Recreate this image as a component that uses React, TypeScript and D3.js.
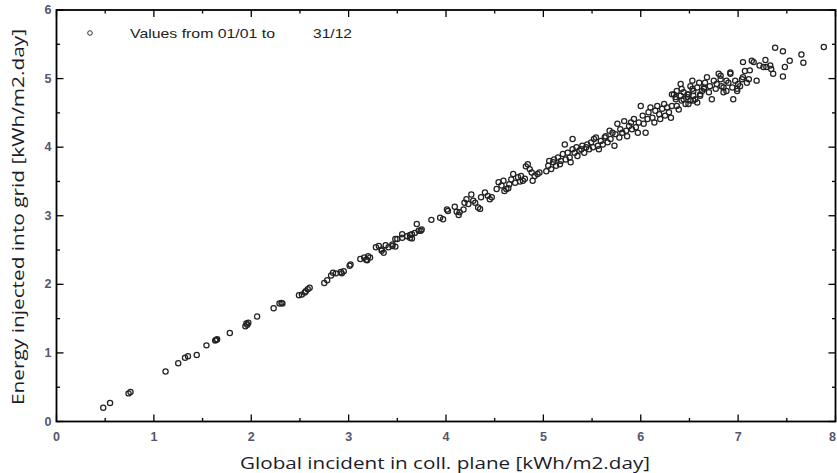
import React from "react";
import * as d3 from "d3";

// daily values (global incident vs energy into grid)
const globalIncident = [
  0.48, 0.55, 0.74, 0.76, 1.12, 1.25, 1.32, 1.35, 1.44, 1.54, 1.63, 1.65, 1.64, 1.78,
  1.94, 1.95, 1.97, 1.96, 2.06, 2.23, 2.29, 2.31, 2.32, 2.49, 2.52, 2.55, 2.56, 2.58,
  2.6, 2.75, 2.78, 2.82, 2.84, 2.87, 2.92, 2.93, 2.95, 3.01, 3.02, 3.12, 3.16, 3.18,
  3.19, 3.2, 3.22, 3.28, 3.31, 3.34, 3.34, 3.36, 3.38, 3.41, 3.45, 3.45, 3.48, 3.48,
  3.5, 3.55, 3.55, 3.6, 3.63, 3.63, 3.65, 3.65, 3.68, 3.7, 3.72, 3.74, 3.75, 3.85,
  3.94, 3.97, 4.01, 4.02, 4.09, 4.11, 4.13, 4.14, 4.18, 4.19, 4.21, 4.23, 4.26, 4.28,
  4.3, 4.33, 4.35, 4.36, 4.4, 4.43, 4.45, 4.47, 4.52, 4.54, 4.57, 4.59, 4.6, 4.62,
  4.64, 4.65, 4.67, 4.69, 4.71, 4.74, 4.76, 4.77, 4.79, 4.81, 4.82, 4.84, 4.86, 4.88,
  4.89, 4.91, 4.94, 4.96, 5.03, 5.05, 5.06, 5.08, 5.1, 5.11, 5.13, 5.15, 5.17, 5.18,
  5.2, 5.22, 5.23, 5.25, 5.27, 5.28, 5.3, 5.3, 5.32, 5.34, 5.35, 5.37, 5.39, 5.4,
  5.42, 5.44, 5.45, 5.47, 5.49, 5.51, 5.52, 5.54, 5.56, 5.57, 5.59, 5.61, 5.63, 5.64,
  5.66, 5.68, 5.69, 5.71, 5.73, 5.74, 5.76, 5.78, 5.79, 5.81, 5.83, 5.85, 5.86, 5.88,
  5.9, 5.91, 5.93, 5.95, 5.97, 5.98, 6.0, 6.02, 6.03, 6.05, 6.07, 6.08, 6.1, 6.12,
  6.14, 6.15, 6.17, 6.19, 6.2, 6.22, 6.24, 6.25, 6.27, 6.29, 6.31, 6.32, 6.34, 6.36,
  6.32, 6.36, 6.37, 6.37, 6.39, 6.41, 6.41, 6.42, 6.42, 6.44, 6.44, 6.46, 6.48, 6.48,
  6.49, 6.49, 6.51, 6.51, 6.53, 6.53, 6.54, 6.54, 6.54, 6.56, 6.58, 6.58, 6.6, 6.61,
  6.61, 6.63, 6.65, 6.65, 6.66, 6.68, 6.7, 6.71, 6.73, 6.75, 6.77, 6.78, 6.8, 6.82,
  6.82, 6.83, 6.85, 6.85, 6.88, 6.88, 6.9, 6.92, 6.92, 6.94, 6.95, 6.97, 6.99, 6.99,
  7.0, 7.02, 7.04, 7.05, 7.05, 7.07, 7.09, 7.11, 7.12, 7.14, 7.16, 7.19, 7.22, 7.26,
  7.28, 7.29, 7.33, 7.34, 7.36, 7.38, 7.46, 7.46, 7.48, 7.53, 7.65, 7.67, 7.88,
];
const energyInjected = [
  0.2, 0.27, 0.41, 0.43, 0.73, 0.85, 0.93, 0.95, 0.97, 1.11, 1.18, 1.2, 1.19, 1.29,
  1.39, 1.43, 1.44, 1.41, 1.53, 1.65, 1.72, 1.73, 1.72, 1.84, 1.85, 1.88, 1.9, 1.93,
  1.95, 2.02, 2.06, 2.13, 2.17, 2.16, 2.18, 2.16, 2.19, 2.27, 2.29, 2.37, 2.39, 2.36,
  2.35, 2.41, 2.39, 2.54, 2.56, 2.49, 2.51, 2.46, 2.57, 2.54, 2.56, 2.58, 2.66, 2.55,
  2.66, 2.73, 2.68, 2.7, 2.72, 2.68, 2.67, 2.73, 2.75, 2.88, 2.78, 2.78, 2.8, 2.94,
  2.97, 2.95, 3.09, 3.07, 3.13, 3.06, 3.01, 3.05, 3.09, 3.19, 3.24, 3.17, 3.31, 3.22,
  3.19, 3.12, 3.1, 3.27, 3.34, 3.29, 3.24, 3.27, 3.39, 3.49, 3.44, 3.51, 3.36, 3.39,
  3.4, 3.46, 3.53, 3.61, 3.48, 3.56, 3.5, 3.58, 3.51, 3.54, 3.72, 3.75, 3.68, 3.63,
  3.51, 3.58, 3.61, 3.63, 3.65, 3.73, 3.8, 3.68, 3.78, 3.82, 3.73, 3.85, 3.75, 3.8,
  3.9, 4.04, 3.82, 3.92, 3.85, 3.78, 3.97, 4.12, 3.92, 4.0, 3.87, 3.95, 3.97, 4.02,
  3.92, 4.0, 4.04, 3.97, 4.07, 4.0, 4.12, 4.14, 4.02, 3.97, 4.09, 4.04, 4.14, 4.16,
  4.07, 4.24, 4.12, 4.21, 4.02, 4.19, 4.34, 4.14, 4.26, 4.21, 4.38, 4.24, 4.16, 4.31,
  4.36, 4.26, 4.41, 4.29, 4.21, 4.36, 4.6, 4.46, 4.34, 4.21, 4.41, 4.51, 4.58, 4.43,
  4.36, 4.53, 4.6, 4.48, 4.41, 4.56, 4.63, 4.46, 4.58, 4.51, 4.43, 4.6, 4.77, 4.7,
  4.77, 4.73, 4.82, 4.6, 4.55, 4.75, 4.92, 4.68, 4.85, 4.8, 4.7, 4.63, 4.73, 4.77,
  4.77, 4.63, 4.68, 4.89, 4.85, 4.97, 4.75, 4.82, 4.68, 4.7, 4.65, 4.87, 4.94, 4.75,
  4.77, 4.82, 4.87, 4.85, 4.94, 5.02, 4.8, 4.89, 4.7, 4.97, 4.85, 4.92, 5.07, 4.99,
  5.04, 4.89, 4.8, 4.87, 4.82, 4.97, 4.94, 5.07, 5.09, 4.87, 4.7, 4.97, 4.85, 4.82,
  4.92, 4.89, 4.99, 5.24, 5.02, 5.11, 4.94, 4.99, 5.12, 5.26, 5.24, 4.97, 5.19, 5.17,
  5.27, 5.17, 5.19, 5.14, 5.07, 5.45, 5.4, 5.03, 5.17, 5.26, 5.35, 5.23, 5.46,
];

const xTicks = [0, 1, 2, 3, 4, 5, 6, 7, 8];
const yTicks = [0, 1, 2, 3, 4, 5, 6];
const xTitle = "Global incident in coll. plane [kWh/m2.day]";
const yTitle = "Energy injected  into grid [kWh/m2.day]";
const legendFrom = "Values from 01/01 to";
const legendTo = "31/12";

const W = 837;
const H = 473;

export default function App() {
  const x = d3.scaleLinear().domain([0, 8]).range([56.5, 835.5]);
  const y = d3.scaleLinear().domain([0, 6]).range([421.5, 10]);

  const xMinor = d3.range(0.5, 8, 1);
  const yMinor = d3.range(0.5, 6, 1);
  const points = globalIncident.map((g, i) => [g, energyInjected[i]]);

  const tickFont = {
    fontFamily: "'Liberation Sans', Arial, sans-serif",
    fontSize: 12.5,
    fontWeight: 700,
    fill: "#55556a",
  };
  const titleFont = {
    fontFamily: "'Open Sans', 'Noto Sans', sans-serif",
    fontSize: 17,
    fill: "#1c1c28",
  };

  const [x0, x1] = x.range();
  const [y0, y1] = y.range();

  return (
    <svg
      width={W}
      height={H}
      style={{ position: "absolute", left: 0, top: 0, background: "#fff" }}
    >
      {/* points */}
      <g fill="none" stroke="#222" strokeWidth={1.25}>
        {points.map((p, i) => (
          <circle key={i} cx={x(p[0])} cy={y(p[1])} r={2.6} />
        ))}
      </g>

      {/* frame */}
      <rect
        x={x0}
        y={y1}
        width={x1 - x0}
        height={y0 - y1}
        fill="none"
        stroke="#000"
        strokeWidth={1.8}
      />

      {/* ticks, inward on all four sides */}
      <g stroke="#000" strokeWidth={1.3}>
        {xTicks.map((t) => (
          <g key={"xt" + t}>
            <line x1={x(t)} x2={x(t)} y1={y0} y2={y0 - 7} />
            <line x1={x(t)} x2={x(t)} y1={y1} y2={y1 + 7} />
          </g>
        ))}
        {xMinor.map((t) => (
          <g key={"xm" + t}>
            <line x1={x(t)} x2={x(t)} y1={y0} y2={y0 - 3.5} />
            <line x1={x(t)} x2={x(t)} y1={y1} y2={y1 + 3.5} />
          </g>
        ))}
        {yTicks.map((t) => (
          <g key={"yt" + t}>
            <line x1={x0} x2={x0 + 7} y1={y(t)} y2={y(t)} />
            <line x1={x1} x2={x1 - 7} y1={y(t)} y2={y(t)} />
          </g>
        ))}
        {yMinor.map((t) => (
          <g key={"ym" + t}>
            <line x1={x0} x2={x0 + 3.5} y1={y(t)} y2={y(t)} />
            <line x1={x1} x2={x1 - 3.5} y1={y(t)} y2={y(t)} />
          </g>
        ))}
      </g>

      {/* tick labels */}
      <g {...tickFont}>
        {xTicks.map((t) => (
          <text
            key={"xl" + t}
            x={t === 8 ? x(t) - 3 : x(t)}
            y={y0 + 19}
            textAnchor="middle"
          >
            {t}
          </text>
        ))}
        {yTicks.map((t) => (
          <text key={"yl" + t} x={x0 - 5} y={y(t) + 4} textAnchor="end">
            {t}
          </text>
        ))}
      </g>

      {/* axis titles */}
      <text
        {...titleFont}
        x={240}
        y={469}
        textLength={410}
        lengthAdjust="spacingAndGlyphs"
      >
        {xTitle}
      </text>
      <text
        {...titleFont}
        textLength={376}
        lengthAdjust="spacingAndGlyphs"
        transform={`translate(24, 405) rotate(-90)`}
      >
        {yTitle}
      </text>

      {/* legend */}
      <circle cx={90} cy={33} r={2.3} fill="none" stroke="#333" strokeWidth={1} />
      <g fontFamily="'Liberation Sans', Arial, sans-serif" fontSize={13} fill="#222">
        <text x={130} y={38} textLength={145} lengthAdjust="spacingAndGlyphs">
          {legendFrom}
        </text>
        <text x={313} y={38} textLength={39} lengthAdjust="spacingAndGlyphs">
          {legendTo}
        </text>
      </g>
    </svg>
  );
}
